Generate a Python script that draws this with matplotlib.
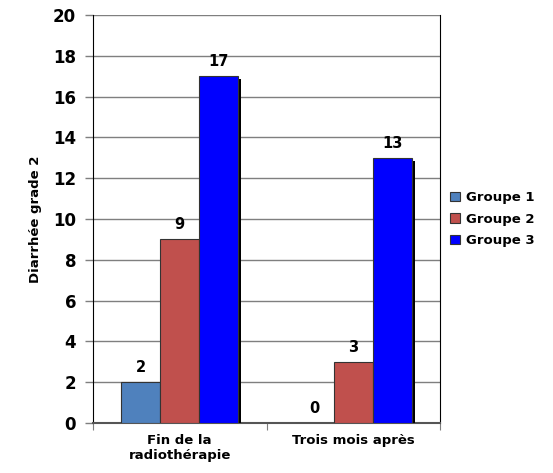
import matplotlib.pyplot as plt
import matplotlib.patheffects as pe
from matplotlib.patches import Patch
import numpy as np

categories = ["Fin de la\nradiothérapie", "Trois mois après"]
groupes = ["Groupe 1", "Groupe 2", "Groupe 3"]
valeurs = {
    "Groupe 1": [2, 0],
    "Groupe 2": [9, 3],
    "Groupe 3": [17, 13],
}
couleurs = ["#4F81BD", "#C0504D", "#0000FF"]
y_ticks = [0, 2, 4, 6, 8, 10, 12, 14, 16, 18, 20]

plt.rcParams["font.family"] = ["DejaVu Sans"]
plt.rcParams["font.weight"] = "bold"

fig = plt.figure(figsize=(5.53, 4.73), dpi=100)
ax = fig.add_axes([0.168, 0.1057, 0.628, 0.8625])

x = np.arange(len(categories))
largeur = 0.225
ombre = [pe.SimplePatchShadow(offset=(2.2, -2.2), shadow_rgbFace="black", alpha=1.0), pe.Normal()]

for i, (nom, couleur) in enumerate(zip(groupes, couleurs)):
    vals = valeurs[nom]
    barres = ax.bar(x + (i - 1) * largeur, vals, largeur, color=couleur,
                    edgecolor="#333333", linewidth=0.8, zorder=3)
    for b, v in zip(barres, vals):
        if v > 0:
            b.set_path_effects(ombre)
        ax.annotate(str(v), (b.get_x() + b.get_width() / 2, v),
                    xytext=(0, 5), textcoords="offset points",
                    ha="center", va="bottom", fontsize=10.5, fontweight="bold")

ax.set_xlim(-0.5, 1.5)
ax.set_ylim(0, 20)
ax.set_yticks(y_ticks)
ax.set_yticklabels([str(t) for t in y_ticks], fontsize=12, fontweight="bold")
ax.yaxis.grid(True, color="#7f7f7f", linewidth=1.0, zorder=0)
ax.set_axisbelow(True)

ax.set_xticks([-0.5, 0.5, 1.5])
ax.set_xticklabels([])
ax.set_xticks(x, minor=True)
ax.set_xticklabels(categories, minor=True, fontsize=9.5, fontweight="bold")
ax.tick_params(axis="x", which="minor", length=0, pad=8)
ax.tick_params(axis="x", which="major", length=5, color="#7f7f7f")
ax.tick_params(axis="y", length=6, width=1, color="#7f7f7f", pad=6)

ax.set_ylabel("Diarrhée grade 2", fontsize=9.5, fontweight="bold", labelpad=8)

ax.spines["top"].set_visible(False)
ax.spines["left"].set_color("black")
ax.spines["bottom"].set_color("#555555")
ax.spines["bottom"].set_linewidth(1.5)
ax.spines["right"].set_color("black")

poignees = [Patch(facecolor=c, edgecolor="#333333", linewidth=0.8, label=n)
            for n, c in zip(groupes, couleurs)]
ax.legend(handles=poignees, loc="center left", bbox_to_anchor=(0.995, 0.5), frameon=False,
          prop={"size": 9.5, "weight": "bold"}, handlelength=0.75, handleheight=0.75,
          handletextpad=0.4, labelspacing=0.65)

fig.savefig("out.png", dpi=100)
